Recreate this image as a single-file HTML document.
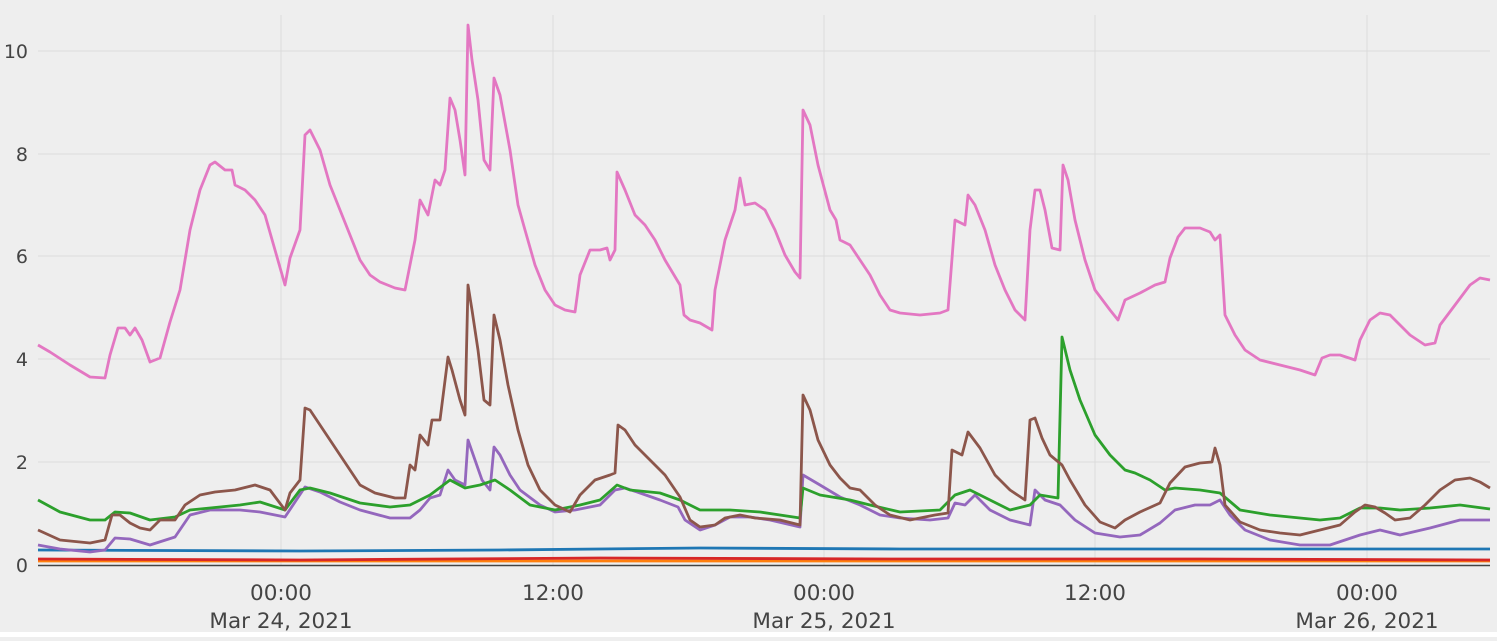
<!DOCTYPE html>
<html><head><meta charset="utf-8"><style>
html,body{margin:0;padding:0;background:#eeeeee;}
svg{display:block;}
text{font-family:"DejaVu Sans","Liberation Sans",sans-serif;font-size:19px;fill:#444;}
.xl text{font-size:21.5px;}
polyline{fill:none;stroke-width:2.8;stroke-linejoin:round;}
</style></head><body>
<svg width="1497" height="641" viewBox="0 0 1497 641">
<rect width="1497" height="641" fill="#eeeeee"/>
<rect x="0" y="632" width="1497" height="5" fill="#ffffff"/>
<g stroke="#dcdcdc" stroke-width="1">
<line x1="38" x2="1490" y1="462" y2="462"/><line x1="38" x2="1490" y1="359" y2="359"/>
<line x1="38" x2="1490" y1="256" y2="256"/><line x1="38" x2="1490" y1="154" y2="154"/>
<line x1="38" x2="1490" y1="51" y2="51"/>
<line x1="281" x2="281" y1="15" y2="565"/><line x1="553" x2="553" y1="15" y2="565"/>
<line x1="824" x2="824" y1="15" y2="565"/><line x1="1095" x2="1095" y1="15" y2="565"/>
<line x1="1367" x2="1367" y1="15" y2="565"/>
</g>
<g text-anchor="end">
<text x="28" y="572">0</text><text x="28" y="469">2</text><text x="28" y="366">4</text>
<text x="28" y="263">6</text><text x="28" y="161">8</text><text x="28" y="58">10</text>
</g>
<g text-anchor="middle" class="xl">
<text x="281" y="600">00:00</text><text x="281" y="628">Mar 24, 2021</text>
<text x="553" y="600">12:00</text>
<text x="824" y="600">00:00</text><text x="824" y="628">Mar 25, 2021</text>
<text x="1095" y="600">12:00</text>
<text x="1367" y="600">00:00</text><text x="1367" y="628">Mar 26, 2021</text>
</g>
<polyline stroke="#ff7f0e" points="38,561 1490,561"/>
<polyline stroke="#d62728" points="38,559 300,560 600,558 900,559 1200,559 1490,560"/>
<polyline stroke="#1f77b4" points="38,550 300,551 500,550 700,548 900,549 1100,549 1250,549 1490,549"/>
<polyline stroke="#9467bd" points="38,545 60,549 90,552 105,550 115,538 130,539 150,545 175,537 190,515 210,510 240,510 260,512 285,517 305,487 320,492 340,502 360,510 390,518 410,518 420,510 430,498 440,495 448,470 455,480 465,485 468,440 475,460 482,480 490,490 494,447 500,455 510,475 520,490 540,505 555,512 575,510 600,505 615,490 625,488 640,493 660,500 678,507 685,520 700,530 715,525 730,517 750,517 770,520 800,527 803,475 820,485 840,497 860,505 880,515 900,518 930,520 948,518 955,503 965,505 975,495 990,510 1010,520 1030,525 1035,490 1045,500 1060,505 1075,520 1095,533 1120,537 1140,535 1160,523 1175,510 1195,505 1210,505 1220,500 1230,515 1245,530 1270,540 1300,545 1330,545 1360,535 1380,530 1400,535 1430,528 1460,520 1490,520"/>
<polyline stroke="#2ca02c" points="38,500 60,512 90,520 105,520 115,512 130,513 150,520 175,517 190,510 210,508 240,505 260,502 285,510 300,490 310,488 330,493 360,503 390,507 410,505 430,495 450,480 465,488 480,485 495,480 510,490 530,505 555,510 580,505 600,500 617,485 630,490 660,493 680,500 700,510 730,510 760,512 800,518 803,488 820,495 850,500 870,505 900,512 940,510 955,495 970,490 990,500 1010,510 1030,505 1040,495 1058,498 1062,337 1070,370 1080,400 1095,435 1110,455 1120,465 1125,470 1135,473 1150,480 1165,490 1175,488 1200,490 1220,493 1240,510 1270,515 1300,518 1320,520 1340,518 1360,508 1380,508 1400,510 1430,508 1460,505 1490,509"/>
<polyline stroke="#8c564b" points="38,530 60,540 90,543 105,540 112,515 120,515 130,523 140,528 150,530 160,520 175,520 185,505 200,495 215,492 235,490 255,485 270,490 285,510 290,493 300,480 305,408 310,410 320,425 330,440 340,455 350,470 360,485 375,493 395,498 405,498 410,465 415,470 420,435 428,445 432,420 440,420 448,357 452,370 460,400 465,415 468,285 472,310 478,350 484,400 490,405 494,315 500,340 508,385 518,430 528,465 540,490 555,505 570,512 580,495 595,480 610,475 615,473 618,425 625,430 635,445 645,455 655,465 665,475 680,497 690,520 700,527 715,525 725,518 740,515 755,518 780,520 800,525 803,395 810,410 818,440 830,465 840,478 850,488 860,490 875,505 890,515 910,520 935,515 948,513 952,450 962,455 968,432 980,448 995,475 1010,490 1025,500 1030,420 1035,418 1042,438 1050,455 1062,465 1070,480 1085,505 1100,522 1115,528 1125,520 1140,512 1160,503 1170,483 1185,467 1200,463 1212,462 1215,448 1220,465 1225,505 1240,522 1260,530 1280,533 1300,535 1320,530 1340,525 1355,512 1365,505 1375,507 1385,513 1395,520 1410,518 1425,505 1440,490 1455,480 1470,478 1480,482 1490,488"/>
<polyline stroke="#e377c2" points="38,345 50,352 70,365 90,377 105,378 110,355 118,328 125,328 130,335 135,328 142,340 150,362 160,358 170,322 180,290 190,230 200,190 210,165 215,162 225,170 232,170 235,185 245,190 255,200 265,215 275,250 285,285 290,258 300,230 305,135 310,130 320,150 330,185 340,210 350,235 360,260 370,275 380,282 395,288 405,290 410,265 415,240 420,200 428,215 435,180 440,185 445,170 450,98 455,110 460,140 465,175 468,25 472,60 478,100 484,160 490,170 494,78 500,95 510,150 518,205 525,230 535,265 545,290 555,305 565,310 575,312 580,275 590,250 600,250 607,248 610,260 615,250 617,172 625,190 635,215 645,225 655,240 665,260 680,285 684,315 690,320 700,323 712,330 715,290 725,240 735,210 740,178 745,205 755,203 765,210 775,230 785,255 795,272 800,278 803,110 810,125 818,165 830,210 836,220 840,240 850,245 860,260 870,275 880,295 890,310 900,313 920,315 940,313 948,310 955,220 965,225 968,195 975,205 985,230 995,265 1005,290 1015,310 1025,320 1030,230 1035,190 1040,190 1045,210 1052,248 1060,250 1063,165 1068,180 1075,220 1085,260 1095,290 1110,310 1118,320 1125,300 1140,293 1155,285 1165,282 1170,258 1178,237 1185,228 1200,228 1210,232 1215,240 1220,235 1225,315 1235,335 1245,350 1260,360 1280,365 1300,370 1315,375 1322,358 1330,355 1340,355 1355,360 1360,340 1370,320 1380,313 1390,315 1400,325 1410,335 1425,345 1435,343 1440,325 1455,305 1470,285 1480,278 1490,280"/>
<line x1="38" x2="1490" y1="565.5" y2="565.5" stroke="#444" stroke-width="1.5"/>
</svg>
</body></html>
